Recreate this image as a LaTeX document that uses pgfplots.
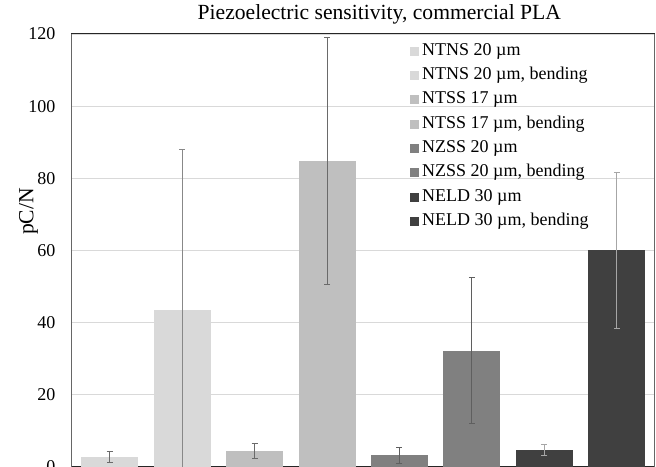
\documentclass[border=0pt]{standalone}
\usepackage{pgfplots}
\pgfplotsset{compat=1.18}
\usepackage{fontspec}
\setmainfont{Liberation Serif}
\definecolor{c1}{HTML}{D9D9D9}
\definecolor{c2}{HTML}{BFBFBF}
\definecolor{c3}{HTML}{808080}
\definecolor{c4}{HTML}{404040}
\definecolor{ebd}{HTML}{6A6A6A}
\definecolor{ebl}{HTML}{A6A6A6}
\definecolor{gridc}{HTML}{D9D9D9}
\newcommand{\bigf}{\fontsize{18bp}{21.6bp}\selectfont}
\newcommand{\titf}{\fontsize{21.6bp}{26bp}\selectfont}
\pgfplotsset{
  mybar/.style={ybar, bar width=57bp, bar shift=0pt, draw=none, fill=#1},
  myerr/.style={error bars/.cd, y dir=both, y explicit,
    error bar style={line width=1bp, color=#1},
    error mark options={rotate=90, mark size=3bp, line width=1bp, color=#1}},
}
\begin{document}
\bigf
\begin{tikzpicture}
\begin{axis}[
  scale only axis, width=583bp, height=433bp,
  xmin=-0.528, xmax=7.521, ymin=0, ymax=120,
  ytick={0,20,...,120}, xtick=\empty,
  major tick length=0pt,
  ymajorgrids, grid style={color=gridc, line width=0.9bp},
  separate axis lines,
  every outer x axis line/.append style={color=black!85, line width=1bp},
  every outer y axis line/.append style={color=black!60, line width=1bp},
  /pgf/number format/assume math mode=true,
  yticklabel style={font=\bigf, inner sep=0pt, xshift=-16bp},
  title={Piezoelectric sensitivity, commercial PLA},
  title style={at={(axis description cs:0.528,1)}, anchor=base, yshift=9bp, inner sep=0pt, font=\titf},
  ylabel={pC/N},
  ylabel style={at={(axis description cs:-0.0737,0.59)}, anchor=center, inner sep=0pt, font=\titf},
  legend image code/.code={\fill[#1] (0bp,-4.5bp) rectangle (9bp,4.5bp);},
  legend cell align=left,
  legend style={draw=none, fill=none, at={(axis description cs:0.5806,0.9815)}, anchor=north west,
    inner sep=0pt, row sep=6.3bp, column sep=3bp, font=\bigf,
    nodes={inner sep=0pt, text height=13bp, text depth=5bp}},
]
\addplot[mybar=c1, myerr=ebd] coordinates {(0,2.8) +- (0,1.5)};
\addlegendentry{NTNS 20 µm}
\addplot[mybar=c1, myerr=ebd!80] coordinates {(1,43.4) +- (0,44.6)};
\addlegendentry{NTNS 20 µm, bending}
\addplot[mybar=c2, myerr=ebd] coordinates {(2,4.4) +- (0,2.0)};
\addlegendentry{NTSS 17 µm}
\addplot[mybar=c2, myerr=ebd] coordinates {(3,84.8) +- (0,34.1)};
\addlegendentry{NTSS 17 µm, bending}
\addplot[mybar=c3, myerr=ebd!90!black] coordinates {(4,3.3) +- (0,2.2)};
\addlegendentry{NZSS 20 µm}
\addplot[mybar=c3, myerr=ebd!90!black] coordinates {(5,32.2) +- (0,20.2)};
\addlegendentry{NZSS 20 µm, bending}
\addplot[mybar=c4, myerr=ebl] coordinates {(6,4.7) +- (0,1.6)};
\addlegendentry{NELD 30 µm}
\addplot[mybar=c4, myerr=ebl] coordinates {(7,60.0) +- (0,21.6)};
\addlegendentry{NELD 30 µm, bending}
\end{axis}
\pgfresetboundingbox
\path[use as bounding box] ([xshift=-71.5bp]current axis.south west) rectangle ([xshift=1.5bp,yshift=34bp]current axis.north east);
\end{tikzpicture}
\end{document}
